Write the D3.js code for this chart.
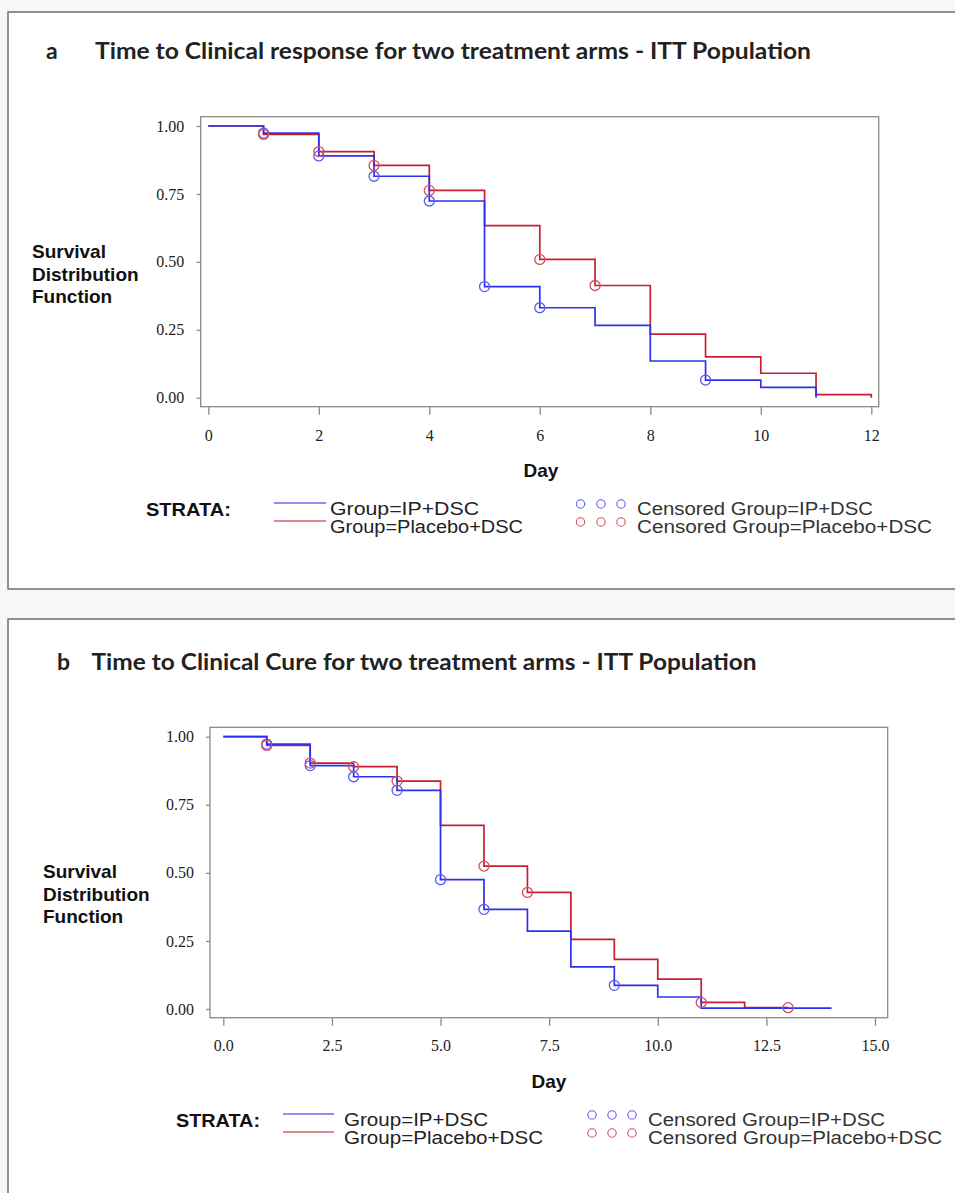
<!DOCTYPE html>
<html><head><meta charset="utf-8">
<script src="https://cdn.jsdelivr.net/npm/d3@7"></script>
<style>body{margin:0;background:#fff} svg{display:block}</style>
</head><body>
<svg id="c" width="955" height="1193"></svg>
<script>
// ---------- Panel a data ----------
const daysA_IP = [0, 1, 2, 3, 4, 5, 6, 7, 8, 9, 10, 11];
const survA_IP = [1.000, 0.974, 0.890, 0.815, 0.724, 0.409, 0.331, 0.266, 0.135, 0.065, 0.038, 0.000];
const daysA_PL = [0, 1, 2, 3, 4, 5, 6, 7, 8, 9, 10, 11, 12];
const survA_PL = [1.000, 0.969, 0.906, 0.855, 0.763, 0.633, 0.509, 0.413, 0.234, 0.150, 0.090, 0.011, 0.000];
const censA_IP = [1, 2, 3, 4, 5, 6, 9];
const censA_PL = [1, 2, 3, 4, 6, 7];
const xTicksA = [0, 2, 4, 6, 8, 10, 12];
// ---------- Panel b data ----------
const daysB_IP = [0, 1, 2, 3, 4, 5, 6, 7, 8, 9, 10, 11, 14];
const survB_IP = [1.000, 0.973, 0.894, 0.853, 0.803, 0.475, 0.366, 0.286, 0.155, 0.087, 0.044, 0.003, 0.003];
const daysB_PL = [0, 1, 2, 3, 4, 5, 6, 7, 8, 9, 10, 11, 12, 13];
const survB_PL = [1.000, 0.968, 0.903, 0.890, 0.837, 0.674, 0.525, 0.428, 0.256, 0.182, 0.110, 0.024, 0.005, 0.005];
const censB_IP = [1, 2, 3, 4, 5, 6, 9];
const censB_PL = [1, 2, 3, 4, 6, 7, 11, 13];
const xTicksB = [0, 2.5, 5, 7.5, 10, 12.5, 15];
const yTicks = [0, 0.25, 0.50, 0.75, 1.00];

const titleA = "Time to Clinical response for two treatment arms - ITT Population";
const titleB = "Time to Clinical Cure for two treatment arms - ITT Population";
const yLabelLines = ["Survival", "Distribution", "Function"];
const legendLines = ["Group=IP+DSC", "Group=Placebo+DSC"];
const legendCens = ["Censored Group=IP+DSC", "Censored Group=Placebo+DSC"];

const BLUE = "#2f2ff0", RED = "#c81e32";
const BLUE_C = "#5a5af5", RED_C = "#d4505c";
const BLUE_L = "#6a6af0", RED_L = "#d06068";

const svg = d3.select("#c");
svg.append("rect").attr("width", 955).attr("height", 1193).attr("fill", "#f7f7f7");

function stepVal(days, surv, t) {
  let v = surv[0];
  for (let i = 0; i < days.length; i++) if (days[i] <= t) v = surv[i];
  return v;
}

function drawPanel(c) {
  const g = svg.append("g");
  g.append("rect").attr("x", c.box[0]).attr("y", c.box[1]).attr("width", c.box[2]).attr("height", c.box[3])
    .attr("fill", "#fff").attr("stroke", "#6e6e6e").attr("stroke-width", 1.5);
  g.append("text").attr("x", c.letterX).attr("y", c.titleY).text(c.letter)
    .attr("font-family", "Lato, 'Open Sans', sans-serif").attr("font-weight", 700).attr("font-size", 23).attr("fill", "#222");
  g.append("text").attr("x", c.titleX).attr("y", c.titleY).text(c.title)
    .attr("font-family", "Lato, 'Open Sans', sans-serif").attr("font-weight", 700).attr("font-size", 23).attr("fill", "#222")
    .attr("textLength", c.titleLen).attr("lengthAdjust", "spacingAndGlyphs");

  const x = d3.scaleLinear().domain(c.xDomain).range(c.xRange);
  const y = d3.scaleLinear().domain([0, 1]).range(c.yRange);

  g.append("rect").attr("x", c.frame[0]).attr("y", c.frame[1])
    .attr("width", c.frame[2] - c.frame[0]).attr("height", c.frame[3] - c.frame[1])
    .attr("fill", "none").attr("stroke", "#8a8a8a").attr("stroke-width", 1.3);

  const ya = g.append("g").attr("transform", `translate(${c.frame[0]},0)`)
    .call(d3.axisLeft(y).tickValues(yTicks).tickFormat(d3.format(".2f")).tickSize(4).tickPadding(c.yPad));
  ya.select(".domain").remove();
  ya.selectAll("line").attr("stroke", "#8a8a8a").attr("stroke-width", 1.3);
  ya.selectAll("text").attr("font-family", "'Liberation Serif', 'Times New Roman', serif").attr("font-size", 16).attr("fill", "#222");

  const xa = g.append("g").attr("transform", `translate(0,${c.frame[3]})`)
    .call(d3.axisBottom(x).tickValues(c.xTicks).tickFormat(c.xFmt).tickSize(8).tickPadding(c.xPad));
  xa.select(".domain").remove();
  xa.selectAll("line").attr("stroke", "#8a8a8a").attr("stroke-width", 1.3);
  xa.selectAll("text").attr("font-family", "'Liberation Serif', 'Times New Roman', serif").attr("font-size", 16).attr("fill", "#222");

  const yl = g.append("text").attr("font-family", "'Liberation Sans', Arial, sans-serif").attr("font-weight", 700)
    .attr("font-size", 19).attr("fill", "#111");
  yLabelLines.forEach((s, i) => yl.append("tspan").attr("x", c.yLabX).attr("y", c.yLabY + i * 22.5).text(s));
  g.append("text").attr("x", c.dayX).attr("y", c.dayY).attr("text-anchor", "middle").text("Day")
    .attr("font-family", "'Liberation Sans', Arial, sans-serif").attr("font-weight", 700).attr("font-size", 19).attr("fill", "#111");

  const line = d3.line().x(d => x(d[0])).y(d => y(d[1])).curve(d3.curveStepAfter);
  const series = [
    {days: c.dPL, surv: c.sPL, cens: c.cPL, col: RED, cc: RED_C},
    {days: c.dIP, surv: c.sIP, cens: c.cIP, col: BLUE, cc: BLUE_C},
  ];
  series.forEach(s => {
    g.append("path").datum(s.days.map((d, i) => [d, s.surv[i]])).attr("d", line)
      .attr("fill", "none").attr("stroke", s.col).attr("stroke-width", 1.7);
  });
  series.slice().reverse().forEach(s => {
    g.selectAll(null).data(s.cens).enter().append("circle")
      .attr("cx", d => x(d)).attr("cy", d => y(stepVal(s.days, s.surv, d))).attr("r", 5)
      .attr("fill", "none").attr("stroke", s.cc).attr("stroke-width", 1.3);
  });

  const L = c.leg;
  const font = "'Liberation Sans', Arial, sans-serif";
  g.append("text").attr("x", L.strataX).attr("y", L.row[0] + 1).text("STRATA:")
    .attr("font-family", font).attr("font-weight", 700).attr("font-size", 19).attr("fill", "#111")
    .attr("textLength", L.strataLen).attr("lengthAdjust", "spacingAndGlyphs");
  const lcols = [BLUE_L, RED_L], ccols = [BLUE_C, RED_C];
  [0, 1].forEach(i => {
    g.append("line").attr("x1", L.lineX[0]).attr("x2", L.lineX[1]).attr("y1", L.lineY[i]).attr("y2", L.lineY[i])
      .attr("stroke", lcols[i]).attr("stroke-width", 1.3);
    g.append("text").attr("x", L.textX).attr("y", L.row[i]).text(legendLines[i])
      .attr("font-family", font).attr("font-size", 17.5).attr("fill", "#222")
      .attr("textLength", L.textLen[i]).attr("lengthAdjust", "spacingAndGlyphs");
    L.circX.forEach(cx => g.append("circle").attr("cx", cx).attr("cy", L.lineY[i] + 1).attr("r", 4.2)
      .attr("fill", "none").attr("stroke", ccols[i]).attr("stroke-width", 1.1));
    g.append("text").attr("x", L.censX).attr("y", L.row[i]).text(legendCens[i])
      .attr("font-family", font).attr("font-size", 17.5).attr("fill", "#333")
      .attr("textLength", L.censLen[i]).attr("lengthAdjust", "spacingAndGlyphs");
  });
}

drawPanel({
  box: [8, 12, 1000, 577], letter: "a", letterX: 46, titleX: 95, titleY: 59, title: titleA, titleLen: 716,
  xDomain: [0, 12], xRange: [208.3, 871.3], yRange: [397.7, 126],
  frame: [200.7, 116.7, 878.7, 406.7], yPad: 12.5, xPad: 15, xTicks: xTicksA, xFmt: d3.format("d"),
  yLabX: 32, yLabY: 258, dayX: 541, dayY: 477,
  dIP: daysA_IP, sIP: survA_IP, cIP: censA_IP, dPL: daysA_PL, sPL: survA_PL, cPL: censA_PL,
  leg: {strataX: 146, strataLen: 85, row: [515, 533], lineX: [274, 326], lineY: [503, 521],
        textX: 330, textLen: [149, 193], circX: [580.5, 601, 621], censX: 637, censLen: [236, 295]}
});

drawPanel({
  box: [8, 619, 1000, 700], letter: "b", letterX: 57, titleX: 91.5, titleY: 670, title: titleB, titleLen: 665,
  xDomain: [0, 15], xRange: [223.3, 875], yRange: [1009, 736.7],
  frame: [210, 727.3, 887.7, 1017.7], yPad: 12, xPad: 14, xTicks: xTicksB, xFmt: d3.format(".1f"),
  yLabX: 43, yLabY: 878, dayX: 549, dayY: 1088,
  dIP: daysB_IP, sIP: survB_IP, cIP: censB_IP, dPL: daysB_PL, sPL: survB_PL, cPL: censB_PL,
  leg: {strataX: 176, strataLen: 84, row: [1126, 1144], lineX: [283, 334], lineY: [1114, 1132],
        textX: 344, textLen: [144, 199], circX: [592, 612, 632], censX: 648, censLen: [237, 294]}
});
</script>
</body></html>
